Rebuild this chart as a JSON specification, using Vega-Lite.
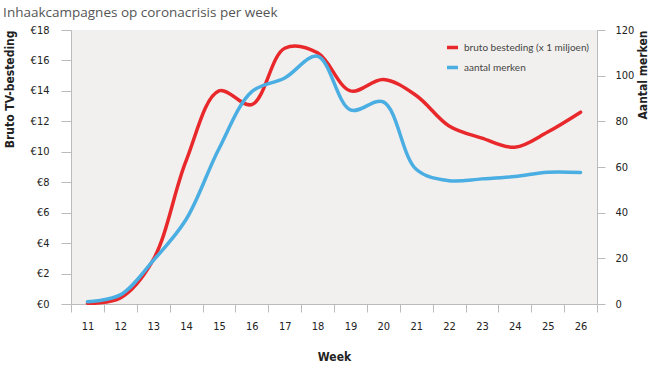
{
  "$schema": "https://vega.github.io/schema/vega-lite/v6.json",
  "autosize": {"type": "none"},
  "width": 526,
  "height": 274,
  "padding": {"left": 71, "top": 30, "right": 60, "bottom": 62},
  "background": "white",
  "title": {
    "text": "Inhaakcampagnes op coronacrisis per week",
    "anchor": "start",
    "frame": "bounds",
    "dx": 0,
    "offset": 5,
    "font": "Open Sans",
    "fontSize": 13.5,
    "fontWeight": 500,
    "color": "#555555"
  },
  "config": {
    "view": {"fill": "#f2f0ee", "stroke": null},
    "axis": {
      "labelFont": "DejaVu Sans Condensed, Roboto, sans-serif",
      "labelFontSize": 11,
      "labelColor": "#222222",
      "titleFont": "DejaVu Sans Condensed, Roboto, sans-serif",
      "titleFontSize": 12,
      "titleFontWeight": "bold",
      "titleColor": "#222222",
      "domainColor": "#bbbbbb",
      "tickColor": "#bbbbbb",
      "grid": false
    }
  },
  "data": {
    "values": [
      {"week": 11, "besteding": 0.05, "merken": 1},
      {"week": 12, "besteding": 0.4, "merken": 4},
      {"week": 13, "besteding": 2.9, "merken": 19},
      {"week": 14, "besteding": 9.4, "merken": 37},
      {"week": 15, "besteding": 14.0, "merken": 68},
      {"week": 16, "besteding": 13.1, "merken": 93},
      {"week": 17, "besteding": 16.8, "merken": 99},
      {"week": 18, "besteding": 16.5, "merken": 108.5},
      {"week": 19, "besteding": 14.0, "merken": 85},
      {"week": 20, "besteding": 14.75, "merken": 88.5},
      {"week": 21, "besteding": 13.7, "merken": 59},
      {"week": 22, "besteding": 11.7, "merken": 54},
      {"week": 23, "besteding": 10.9, "merken": 54.8},
      {"week": 24, "besteding": 10.3, "merken": 55.8},
      {"week": 25, "besteding": 11.3, "merken": 57.7},
      {"week": 26, "besteding": 12.6, "merken": 57.6}
    ]
  },
  "encoding": {
    "x": {
      "field": "week",
      "type": "ordinal",
      "scale": {"type": "band", "paddingInner": 0, "paddingOuter": 0},
      "axis": {
        "title": "Week",
        "labelAngle": 0,
        "tickBand": "extent",
        "tickSize": 8,
        "labelPadding": 8,
        "titlePadding": 20
      }
    }
  },
  "layer": [
    {
      "mark": {"type": "line", "interpolate": "catmull-rom", "strokeWidth": 3.5, "strokeCap": "round"},
      "encoding": {
        "y": {
          "field": "besteding",
          "type": "quantitative",
          "scale": {"domain": [0, 18], "nice": false},
          "axis": {
            "title": "Bruto TV-besteding",
            "orient": "left",
            "values": [0, 2, 4, 6, 8, 10, 12, 14, 16, 18],
            "labelExpr": "'€' + datum.value",
            "tickSize": 10,
            "labelPadding": 12,
            "titleAnchor": "end",
            "titlePadding": 14
          }
        },
        "color": {
          "datum": "bruto besteding (x 1 miljoen)",
          "type": "nominal",
          "scale": {
            "domain": ["bruto besteding (x 1 miljoen)", "aantal merken"],
            "range": ["#e8282b", "#4aaee3"]
          },
          "legend": {
            "title": null,
            "orient": "none",
            "legendX": 374,
            "legendY": 10,
            "symbolType": "stroke",
            "symbolStrokeWidth": 3.5,
            "symbolSize": 120,
            "labelFont": "Lato",
            "labelFontSize": 10,
            "labelColor": "#444444",
            "rowPadding": 5
          }
        }
      }
    },
    {
      "mark": {"type": "line", "interpolate": "catmull-rom", "strokeWidth": 3.5, "strokeCap": "round"},
      "encoding": {
        "y": {
          "field": "merken",
          "type": "quantitative",
          "scale": {"domain": [0, 120], "nice": false},
          "axis": {
            "title": "Aantal merken",
            "orient": "right",
            "values": [0, 20, 40, 60, 80, 100, 120],
            "tickSize": 8,
            "labelPadding": 10,
            "titleAngle": 270,
            "titleAnchor": "end",
            "titlePadding": 16
          }
        },
        "color": {"datum": "aantal merken", "type": "nominal"}
      }
    }
  ],
  "resolve": {"scale": {"y": "independent"}}
}
